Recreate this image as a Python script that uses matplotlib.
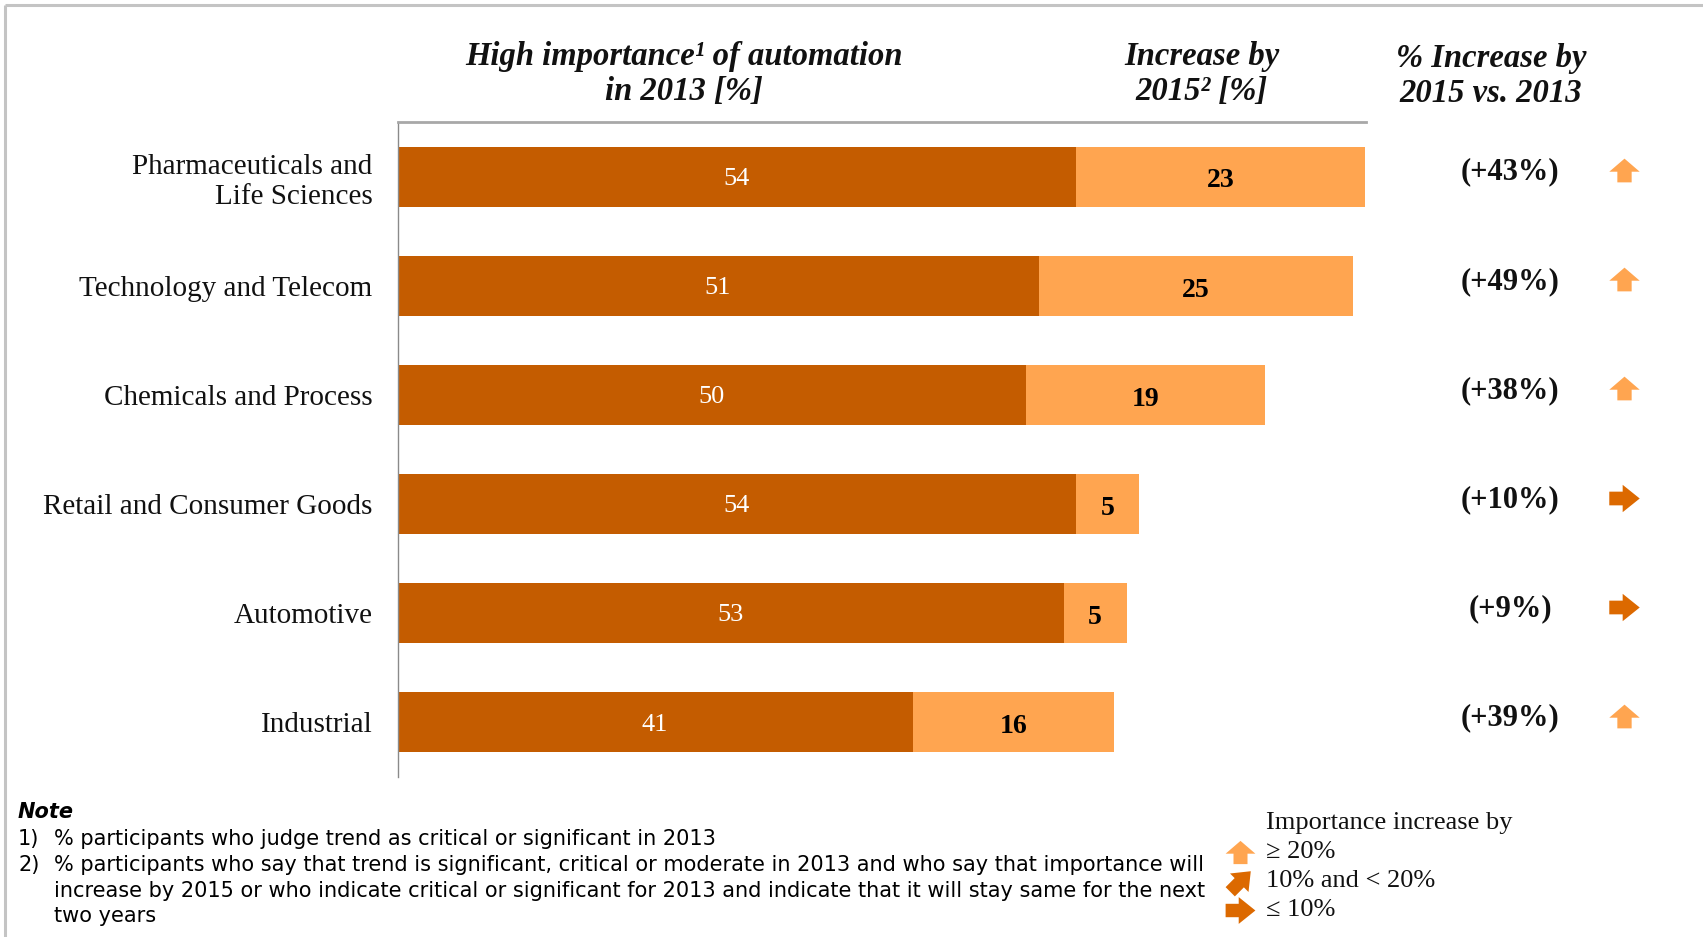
import numpy as np
import matplotlib
matplotlib.use("Agg")
import matplotlib.pyplot as plt
from matplotlib.path import Path
from matplotlib.transforms import blended_transform_factory

categories = ["Pharmaceuticals and\nLife Sciences", "Technology and Telecom",
              "Chemicals and Process", "Retail and Consumer Goods",
              "Automotive", "Industrial"]
base_2013 = [54, 51, 50, 54, 53, 41]
increase_2015 = [23, 25, 19, 5, 5, 16]
pct_increase = [43, 49, 38, 10, 9, 39]

note_nums = ["1)", "2)", "", ""]
note_lines = ["% participants who judge trend as critical or significant in 2013",
              "% participants who say that trend is significant, critical or moderate in 2013 and who say that importance will",
              "increase by 2015 or who indicate critical or significant for 2013 and indicate that it will stay same for the next",
              "two years"]
legend_labels = ["\u2265 20%", "10% and < 20%", "\u2264 10%"]

DARK = "#C45C00"
LIGHT = "#FFA550"
ARROW_DARK = "#DC6900"
SERIF = ["Liberation Serif", "DejaVu Serif"]
SANS = ["DejaVu Sans"]

# block arrow markers
up_arrow = Path([(-0.235, -0.39), (0.235, -0.39), (0.235, -0.04), (0.5, -0.04),
                 (0.0, 0.39), (-0.5, -0.04), (-0.235, -0.04), (-0.235, -0.39)])
right_verts = np.array([(-0.5, -0.225), (-0.06, -0.225), (-0.06, -0.45), (0.5, 0.0),
                        (-0.06, 0.45), (-0.06, 0.225), (-0.5, 0.225), (-0.5, -0.225)])
right_arrow = Path(right_verts)
a = np.deg2rad(45)
rot = np.array([[np.cos(a), -np.sin(a)], [np.sin(a), np.cos(a)]])
diag_arrow = Path(right_verts @ rot.T)

W, H = 1703, 937
fig = plt.figure(figsize=(W / 100, H / 100 + 0.0001), dpi=100)

# overlay in pixel coordinates for frame, notes and legend
ov = fig.add_axes([0, 0, 1, 1])
ov.set_xlim(0, W)
ov.set_ylim(H, 0)
ov.axis("off")
ov.plot([5, W], [5, 5], color="#C4C4C4", lw=2.2, solid_capstyle="butt")
ov.plot([5, 5], [5, H], color="#C4C4C4", lw=2.2, solid_capstyle="butt")

# bar axes
ax = fig.add_axes([397.5 / W, 1 - 777 / H, (1366 - 397.5) / W, 655 / H])
y = np.arange(len(categories))
ax.barh(y, base_2013, height=0.55, color=DARK)
ax.barh(y, increase_2015, left=base_2013, height=0.55, color=LIGHT)
ax.set_xlim(0, 77.05)
ax.set_ylim(5.5, -0.5)
ax.set_xticks([])
ax.set_yticks(y)
ax.set_yticklabels(categories, family=SERIF, fontsize=21, color="#111111",
                   linespacing=1.2)
ax.tick_params(axis="y", length=0, pad=18)
for s in ["right", "bottom"]:
    ax.spines[s].set_visible(False)
ax.spines["left"].set_color("#8a8a8a")
ax.spines["left"].set_linewidth(1.0)
ax.spines["top"].set_color("#A8A8A8")
ax.spines["top"].set_linewidth(2.0)

for i, (b, inc) in enumerate(zip(base_2013, increase_2015)):
    ax.text(b / 2, i + 0.02, str(b), ha="center", va="center", color="white",
            fontsize=19, family=SERIF)
    ax.text(b + inc / 2, i + 0.04, str(inc), ha="center", va="center", color="black",
            fontsize=20, fontweight="bold", family=SERIF)

# right column: % increase and trend arrows
blend = blended_transform_factory(ov.transData, ax.transData)
for i, p in enumerate(pct_increase):
    ax.text(1510, i - 0.04, f"(+{p}%)", transform=blend, ha="center", va="center",
            fontsize=22, fontweight="bold", family=SERIF, color="#111111")
    if p >= 20:
        mk, col = up_arrow, LIGHT
    elif p > 10:
        mk, col = diag_arrow, ARROW_DARK
    else:
        mk, col = right_arrow, ARROW_DARK
    ax.scatter([1624], [i - 0.06], marker=mk, s=480, color=col, transform=blend,
               clip_on=False, linewidths=0)

# headers
hdr = dict(ha="center", va="center", fontsize=23.5, fontweight="bold", style="italic",
           family=SERIF, color="#111111", linespacing=1.15)
fig.text(684 / W, 1 - 74 / H, "High importance\u00b9 of automation\nin 2013 [%]", **hdr)
fig.text(1202 / W, 1 - 74 / H, "Increase by\n2015\u00b2 [%]", **hdr)
fig.text(1491 / W, 1 - 76 / H, "% Increase by\n2015 vs. 2013", **hdr)

# notes
ov.text(18, 812, "Note", ha="left", va="center", fontsize=15, fontweight="bold",
        style="italic", family=SANS, color="black")
for ly, num, line in zip([838.5, 864.5, 890.5, 915.5], note_nums, note_lines):
    ov.text(18, ly, num, ha="left", va="center", fontsize=15, family=SANS)
    ov.text(54, ly, line, ha="left", va="center", fontsize=15, family=SANS)

# legend
ov.text(1266, 823, "Importance increase by", ha="left", va="center", fontsize=19,
        family=SERIF, color="#111111")
leg_y = [852, 881, 910]
leg_marks = [(up_arrow, LIGHT), (diag_arrow, ARROW_DARK), (right_arrow, ARROW_DARK)]
for ly, lab, (mk, col) in zip(leg_y, legend_labels, leg_marks):
    ov.scatter([1240], [ly], marker=mk, s=460, color=col, linewidths=0, clip_on=False)
    ov.text(1266, ly, lab, ha="left", va="center", fontsize=19, family=SERIF,
            color="#111111")

fig.savefig("out.png", dpi=100)
print("Saved: out.png")
